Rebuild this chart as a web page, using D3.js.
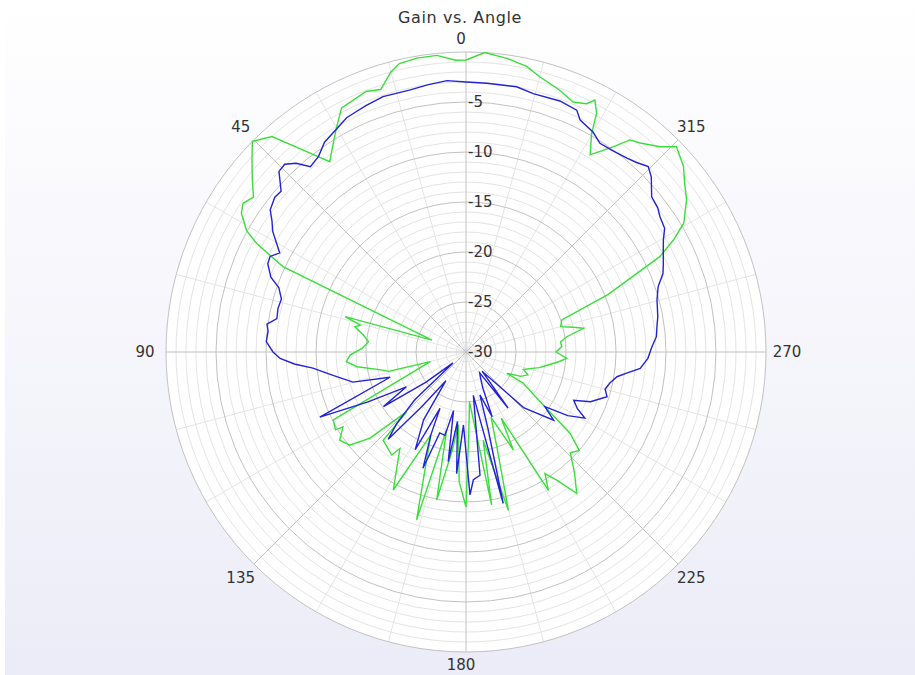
<!DOCTYPE html>
<html lang="en">
<head>
    <meta charset="UTF-8">
    <title>Gain vs. Angle</title>
    <style>
        body { margin: 0; background: #fff; }
        text { font-family: "DejaVu Sans", sans-serif; fill: #333; }
    </style>
</head>
<body>
    <div class="chart"></div>

    <script src="https://cdn.jsdelivr.net/npm/d3@7"></script>
    <script>
        // Angle (deg, counter-clockwise from top) and gain (dB) of each series
        const blueAngle = [0, 4, 8, 12, 18, 22, 25, 27, 30, 34, 37, 40, 42, 44, 46, 49, 51, 54, 56, 58, 62, 64, 66, 69, 71, 74, 77, 80, 82, 84, 87, 90, 92, 94, 96, 100, 104.9, 108.4, 114, 117, 120.3, 123.5, 127, 130, 133, 136, 138.3, 141, 145, 148, 152.5, 155.2, 157, 159.7, 162, 165.8, 168, 170.8, 171.4, 173, 175.6, 178, 181.6, 183.3, 186.5, 189.6, 193.8, 196, 198, 202, 205, 209, 213.3, 216.9, 220, 226, 232.1, 235.3, 238, 240.9, 243, 245.9, 248.2, 252.4, 255, 257.7, 260.7, 262.5, 264.6, 268, 271.6, 274.6, 278.1, 280.4, 285.3, 288.8, 291.7, 294, 297.3, 299.6, 301.9, 304.9, 307, 309.9, 313.4, 315.5, 318, 320.3, 324.2, 327.3, 330, 333.8, 335.4, 339.5, 345.4, 349.2, 355.6];
        const blueGain = [-3.0, -2.8, -3.0, -3.2, -3.15, -3.4, -3.6, -3.7, -4.2, -4.7, -5.5, -5.8, -4.6, -3.9, -4.0, -5.5, -5.4, -5.8, -6.6, -7.2, -8.9, -8.2, -8.3, -9.1, -10.2, -10.8, -10.7, -10.8, -9.9, -10.1, -10.0, -10.7, -11.4, -12.8, -14.6, -16.5, -18.3, -22, -14, -19, -23.1, -20.1, -25, -28.3, -23, -20, -18.3, -23, -26.5, -22, -19, -23.8, -21, -17.6, -21.5, -21.4, -24, -18.9, -20.4, -23, -17.8, -22.7, -15.7, -17.2, -17.6, -25.6, -14.4, -22, -25.5, -23, -26, -27, -27.5, -23, -27.5, -22, -18.9, -20.4, -18, -16.4, -17.5, -18.2, -16.6, -15.2, -15.6, -15.3, -14.7, -13.8, -12.5, -11.8, -11.4, -10.9, -10.7, -10.5, -10.2, -9.7, -8.8, -8.4, -7.8, -7.3, -6.6, -6.35, -6.0, -5.8, -4.5, -4.0, -4.5, -4.8, -5.1, -5.2, -4.6, -4.15, -3.4, -3.2, -3.3, -3.0, -3.05];

        const greenAngle = [0, 2, 5.6, 9.5, 13, 15, 18, 21, 24, 27, 30, 33, 35.6, 38.5, 42, 45.4, 48, 51, 53.9, 56.3, 58.3, 61, 62.6, 65, 70.7, 73.7, 75.7, 77.2, 80.6, 84, 88, 91.5, 94.6, 97.7, 102.3, 104, 105, 117.1, 120.8, 121.3, 124.9, 128.7, 131.9, 135.2, 136.8, 144.2, 145.6, 152.2, 157, 163.6, 166, 168.8, 172, 174, 177, 180, 182, 184, 189.5, 191, 195, 198, 201, 205.8, 208, 210.8, 213, 215.3, 218.1, 222, 226, 229, 232, 236, 241.4, 242.4, 246, 249.7, 253, 256.1, 258, 261, 264, 266.4, 270, 273.2, 276, 278.6, 281.4, 283, 285, 288.5, 292, 296.2, 298.4, 300.6, 304.6, 307.6, 310.5, 314.3, 316.6, 320.2, 322.3, 324.3, 327.8, 330.1, 331.3, 332.9, 334.1, 336.8, 340.3, 345, 348, 352.1, 356.4];
        const greenGain = [-0.8, -0.8, -0.2, -0.2, -0.4, -1.0, -2.4, -2.1, -2.4, -2.6, -4.1, -5.5, -6.6, -4.4, -1.0, 0, -1.2, -2.5, -3.7, -3.2, -3.6, -4.9, -6.4, -9.8, -26.4, -17.4, -19.1, -18.6, -19.6, -20.2, -19.6, -18.4, -18.0, -19.0, -21.5, -22, -26.3, -15.1, -14.8, -15.6, -14.6, -15.1, -17.1, -21.6, -17.9, -17.3, -18.3, -14.4, -21, -12.5, -22, -14.9, -20, -22.7, -17, -14.5, -22, -25, -14.5, -21, -13.6, -20, -23, -19.1, -22.5, -13.9, -15.5, -14.3, -12.05, -13.8, -15.5, -15, -16.8, -21, -23.5, -25.4, -24, -23.4, -24, -23.2, -22.5, -21.7, -20.7, -19.9, -21, -20.4, -20.5, -19.8, -18.0, -19, -20.2, -19.9, -14.7, -8.4, -6.4, -4.7, -3.2, -2.4, -1.4, -0.6, -1.75, -2.8, -3.2, -4.7, -6.7, -4.8, -2.8, -1.7, -2.4, -2.8, -2.2, -1.5, -0.8, -0.35, 0];

        const radialTicks = [-5, -10, -15, -20, -25, -30];
        const angleTicks = [0, 45, 90, 135, 180, 225, 270, 315];

        const W = 915, H = 675;
        const cx = 466, cy = 352, R = 300;

        const svg = d3.select(".chart").append("svg")
            .attr("width", W)
            .attr("height", H);

        // background gradient
        const grad = svg.append("defs").append("linearGradient")
            .attr("id", "bg").attr("x1", 0).attr("y1", 0).attr("x2", 0).attr("y2", 1);
        grad.append("stop").attr("offset", "0%").attr("stop-color", "#ffffff");
        grad.append("stop").attr("offset", "100%").attr("stop-color", "#ececf8");
        svg.append("rect").attr("width", W).attr("height", H).attr("fill", "url(#bg)");
        svg.append("rect").attr("width", 5).attr("height", H).attr("fill", "#fff");

        // scales
        const r = d3.scaleLinear().domain([-30, 0]).range([0, R]);
        const a = d3.scaleLinear().domain([0, 360]).range([0, -2 * Math.PI]); // CCW

        const g = svg.append("g").attr("transform", `translate(${cx},${cy})`);

        g.append("circle").attr("r", R).attr("fill", "#fff");

        // minor circles (1 dB) and spokes (15 deg)
        const minorDb = d3.range(-29, 0).filter(d => d % 5 !== 0);
        g.selectAll(".minor-c").data(minorDb).enter().append("circle")
            .attr("r", d => r(d))
            .attr("fill", "none").attr("stroke", "#e4e4e4");

        const minorAng = d3.range(0, 360, 15).filter(d => d % 45 !== 0);
        g.selectAll(".minor-s").data(minorAng).enter().append("line")
            .attr("x2", d => R * Math.sin(a(d)))
            .attr("y2", d => -R * Math.cos(a(d)))
            .attr("stroke", "#e4e4e4");

        // major circles and spokes
        const majorDb = d3.range(-25, 1, 5);
        g.selectAll(".major-c").data(majorDb).enter().append("circle")
            .attr("r", d => r(d))
            .attr("fill", "none").attr("stroke", "#c2c2c2");

        g.selectAll(".major-s").data(angleTicks).enter().append("line")
            .attr("x2", d => R * Math.sin(a(d)))
            .attr("y2", d => -R * Math.cos(a(d)))
            .attr("stroke", "#c2c2c2");

        // data lines
        const line = d3.lineRadial()
            .angle(d => a(d[0]))
            .radius(d => r(Math.max(-30, d[1])))
            .curve(d3.curveLinearClosed);

        const greenData = greenAngle.map((d, i) => [d, greenGain[i]]);
        const blueData = blueAngle.map((d, i) => [d, blueGain[i]]);

        g.append("path").datum(greenData)
            .attr("d", line)
            .attr("fill", "none").attr("stroke", "#3ade3a").attr("stroke-width", 1.4);

        g.append("path").datum(blueData)
            .attr("d", line)
            .attr("fill", "none").attr("stroke", "#2323d6").attr("stroke-width", 1.4);

        // radial tick labels
        g.selectAll(".rlab").data(radialTicks).enter().append("text")
            .attr("x", 2)
            .attr("y", d => -r(d))
            .attr("dy", "0.35em")
            .style("font-size", "15px")
            .text(d => d);

        // angle labels, a bit further out on the sides
        const labR = d => 313 + 8 * Math.abs(Math.sin(a(d)));
        g.selectAll(".alab").data(angleTicks).enter().append("text")
            .attr("x", d => labR(d) * Math.sin(a(d)) - (d % 180 === 0 ? 5 : 0))
            .attr("y", d => -labR(d) * Math.cos(a(d)))
            .attr("dy", "0.35em")
            .attr("text-anchor", "middle")
            .style("font-size", "15px")
            .text(d => d);

        // title
        svg.append("text")
            .attr("x", 460).attr("y", 17)
            .attr("dy", "0.35em")
            .attr("text-anchor", "middle")
            .style("font-size", "16px")
            .style("letter-spacing", "0.6px")
            .text("Gain vs. Angle");
    </script>
</body>
</html>
